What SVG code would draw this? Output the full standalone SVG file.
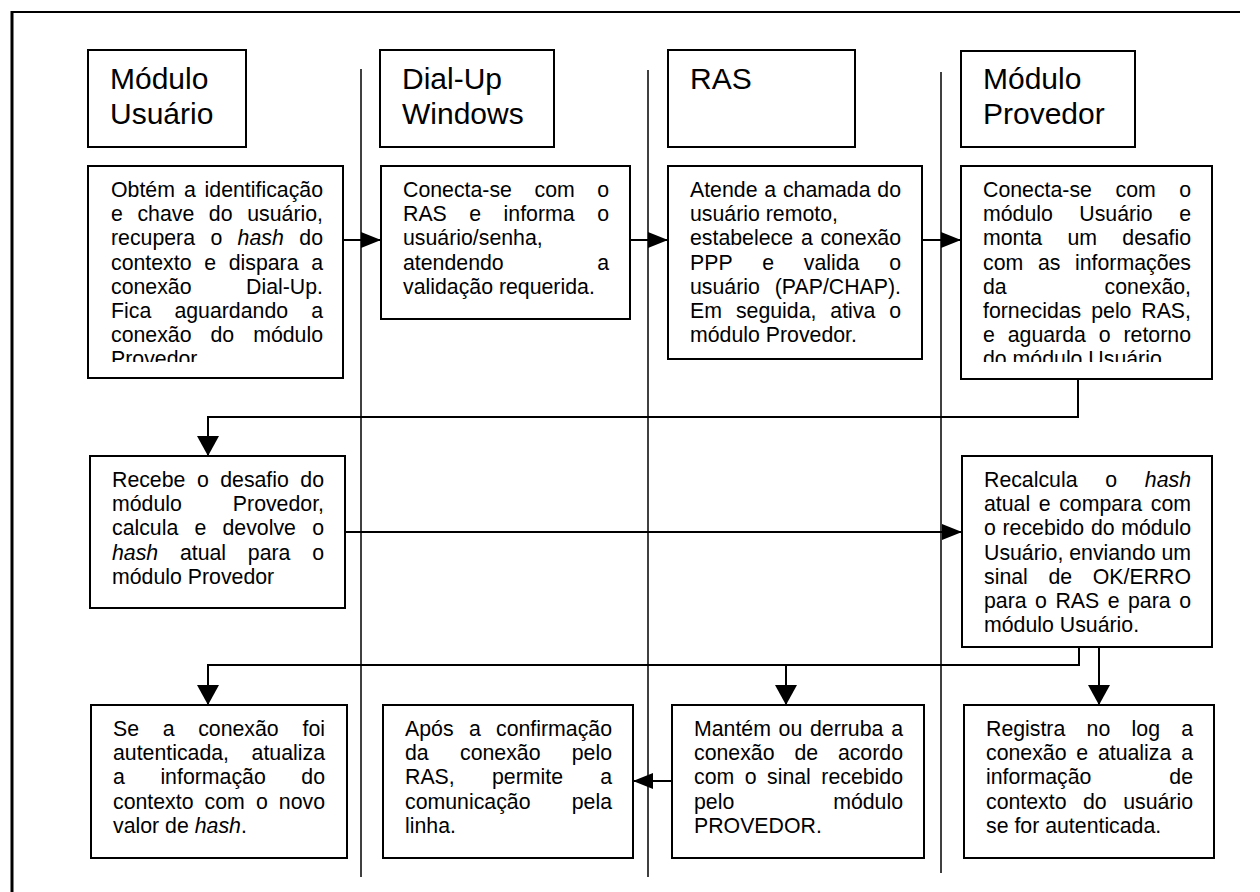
<svg xmlns="http://www.w3.org/2000/svg" width="1260" height="892" viewBox="0 0 1260 892">
<defs>
  <marker id="ah" markerUnits="userSpaceOnUse" markerWidth="20" markerHeight="16" viewBox="0 0 20 16" refX="20" refY="8" orient="auto"><path d="M0,0 L20,8 L0,16 Z" fill="#000"/></marker>
  <marker id="av" markerUnits="userSpaceOnUse" markerWidth="20" markerHeight="22" viewBox="0 0 20 22" refX="20" refY="11" orient="auto"><path d="M0,0 L20,11 L0,22 Z" fill="#000"/></marker>
  <clipPath id="clipU1"><rect x="88" y="166" width="255" height="196"/></clipPath>
  <clipPath id="clipP1"><rect x="961" y="166" width="251" height="196"/></clipPath>
</defs>
<style>
  .frame{fill:none;stroke:#000}
  .box{fill:#fff;stroke:#000;stroke-width:2}
  .lane{stroke:#000;stroke-width:1.5}
  .wire{fill:none;stroke:#000;stroke-width:2}
  text{font-family:"Liberation Sans",Arial,sans-serif;fill:#000}
  .hd{font-size:30px}
  .bd{font-size:21.3px}
  .e{text-anchor:end}
  .i{font-style:italic}
</style>
<rect width="1260" height="892" fill="#fff"/>

<!-- page frame -->
<g id="frame">
  <line class="frame" x1="12" y1="12" x2="1240" y2="12" stroke-width="2"/>
  <line class="frame" x1="12" y1="11" x2="12" y2="892" stroke-width="3"/>
</g>

<!-- swimlane separators -->
<g id="lanes">
  <line class="lane" x1="361" y1="69" x2="361" y2="877"/>
  <line class="lane" x1="648" y1="70" x2="648" y2="877"/>
  <line class="lane" x1="941" y1="72" x2="941" y2="873"/>
</g>

<!-- lane headers -->
<g id="hdr-usuario">
  <rect class="box" x="88" y="50" width="158" height="97"/>
  <text class="hd" x="110" y="89">Módulo</text>
  <text class="hd" x="110" y="124">Usuário</text>
</g>
<g id="hdr-dialup">
  <rect class="box" x="380" y="50" width="174" height="97"/>
  <text class="hd" x="402" y="89">Dial-Up</text>
  <text class="hd" x="402" y="124">Windows</text>
</g>
<g id="hdr-ras">
  <rect class="box" x="668" y="50" width="187" height="97"/>
  <text class="hd" x="690" y="89">RAS</text>
</g>
<g id="hdr-provedor">
  <rect class="box" x="961" y="51" width="174" height="96"/>
  <text class="hd" x="983" y="89">Módulo</text>
  <text class="hd" x="983" y="124">Provedor</text>
</g>

<!-- row 1 -->
<g id="u1">
  <rect class="box" x="88" y="166" width="255" height="212"/>
  <g clip-path="url(#clipU1)">
    <text class="bd" y="197"><tspan x="111">Obtém</tspan><tspan x="183.9">a</tspan><tspan x="323" class="e">identificação</tspan></text>
    <text class="bd" y="221.2"><tspan x="111">e</tspan><tspan x="137.4">chave</tspan><tspan x="208.8">do</tspan><tspan x="323" class="e">usuário,</tspan></text>
    <text class="bd" y="245.4"><tspan x="111">recupera</tspan><tspan x="210.4">o</tspan><tspan x="237.6" class="i">hash</tspan><tspan x="323" class="e">do</tspan></text>
    <text class="bd" y="269.6"><tspan x="111">contexto</tspan><tspan x="204.2">e</tspan><tspan x="228.7">dispara</tspan><tspan x="323" class="e">a</tspan></text>
    <text class="bd" y="293.8"><tspan x="111">conexão</tspan><tspan x="323" class="e">Dial-Up.</tspan></text>
    <text class="bd" y="318"><tspan x="111">Fica</tspan><tspan x="174.4">aguardando</tspan><tspan x="323" class="e">a</tspan></text>
    <text class="bd" y="342.2"><tspan x="111">conexão</tspan><tspan x="210.5">do</tspan><tspan x="323" class="e">módulo</tspan></text>
    <text class="bd" x="111" y="366.4">Provedor</text>
  </g>
</g>
<g id="d1">
  <rect class="box" x="381" y="166" width="249" height="153"/>
  <text class="bd" y="197"><tspan x="403">Conecta-se</tspan><tspan x="534.5">com</tspan><tspan x="609" class="e">o</tspan></text>
  <text class="bd" y="221.2"><tspan x="403">RAS</tspan><tspan x="469.3">e</tspan><tspan x="503.6">informa</tspan><tspan x="609" class="e">o</tspan></text>
  <text class="bd" x="403" y="245.4">usuário/senha,</text>
  <text class="bd" y="269.6"><tspan x="403">atendendo</tspan><tspan x="609" class="e">a</tspan></text>
  <text class="bd" x="403" y="293.8">validação requerida.</text>
</g>
<g id="r1">
  <rect class="box" x="668" y="166" width="254" height="193"/>
  <text class="bd" y="197"><tspan x="690">Atende</tspan><tspan x="764.3">a</tspan><tspan x="782.9">chamada</tspan><tspan x="901" class="e">do</tspan></text>
  <text class="bd" x="690" y="221.2">usuário remoto,</text>
  <text class="bd" y="245.4"><tspan x="690">estabelece</tspan><tspan x="800.9">a</tspan><tspan x="901" class="e">conexão</tspan></text>
  <text class="bd" y="269.6"><tspan x="690">PPP</tspan><tspan x="762.3">e</tspan><tspan x="803.8">valida</tspan><tspan x="901" class="e">o</tspan></text>
  <text class="bd" y="293.8"><tspan x="690">usuário</tspan><tspan x="901" class="e">(PAP/CHAP).</tspan></text>
  <text class="bd" y="318"><tspan x="690">Em</tspan><tspan x="735.9">seguida,</tspan><tspan x="830.3">ativa</tspan><tspan x="901" class="e">o</tspan></text>
  <text class="bd" x="690" y="342.2">módulo Provedor.</text>
</g>
<g id="p1">
  <rect class="box" x="961" y="166" width="251" height="213"/>
  <g clip-path="url(#clipP1)">
    <text class="bd" y="197"><tspan x="983">Conecta-se</tspan><tspan x="1115.5">com</tspan><tspan x="1191" class="e">o</tspan></text>
    <text class="bd" y="221.2"><tspan x="983">módulo</tspan><tspan x="1079.3">Usuário</tspan><tspan x="1191" class="e">e</tspan></text>
    <text class="bd" y="245.4"><tspan x="983">monta</tspan><tspan x="1067.5">um</tspan><tspan x="1191" class="e">desafio</tspan></text>
    <text class="bd" y="269.6"><tspan x="983">com</tspan><tspan x="1037.9">as</tspan><tspan x="1191" class="e">informações</tspan></text>
    <text class="bd" y="293.8"><tspan x="983">da</tspan><tspan x="1191" class="e">conexão,</tspan></text>
    <text class="bd" y="318"><tspan x="983">fornecidas</tspan><tspan x="1091.2">pelo</tspan><tspan x="1191" class="e">RAS,</tspan></text>
    <text class="bd" y="342.2"><tspan x="983">e</tspan><tspan x="1007.7">aguarda</tspan><tspan x="1098.7">o</tspan><tspan x="1191" class="e">retorno</tspan></text>
    <text class="bd" x="983" y="366.4">do módulo Usuário</text>
  </g>
</g>

<!-- row 2 -->
<g id="u2">
  <rect class="box" x="90" y="456" width="255" height="152"/>
  <text class="bd" y="487"><tspan x="112">Recebe</tspan><tspan x="196.9">o</tspan><tspan x="220.2">desafio</tspan><tspan x="324" class="e">do</tspan></text>
  <text class="bd" y="511.2"><tspan x="112">módulo</tspan><tspan x="324" class="e">Provedor,</tspan></text>
  <text class="bd" y="535.4"><tspan x="112">calcula</tspan><tspan x="194.5">e</tspan><tspan x="222.5">devolve</tspan><tspan x="324" class="e">o</tspan></text>
  <text class="bd" y="559.6"><tspan x="112" class="i">hash</tspan><tspan x="179.9">atual</tspan><tspan x="247.8">para</tspan><tspan x="324" class="e">o</tspan></text>
  <text class="bd" x="112" y="583.8">módulo Provedor</text>
</g>
<g id="p2">
  <rect class="box" x="962" y="456" width="250" height="191"/>
  <text class="bd" y="487"><tspan x="984">Recalcula</tspan><tspan x="1105.3">o</tspan><tspan x="1191" class="e i">hash</tspan></text>
  <text class="bd" y="511.2"><tspan x="984">atual</tspan><tspan x="1038.8">e</tspan><tspan x="1059.2">compara</tspan><tspan x="1191" class="e">com</tspan></text>
  <text class="bd" y="535.4"><tspan x="984">o</tspan><tspan x="1002.5">recebido</tspan><tspan x="1090.9">do</tspan><tspan x="1191" class="e">módulo</tspan></text>
  <text class="bd" y="559.6"><tspan x="984">Usuário,</tspan><tspan x="1069.2">enviando</tspan><tspan x="1191" class="e">um</tspan></text>
  <text class="bd" y="583.8"><tspan x="984">sinal</tspan><tspan x="1048.5">de</tspan><tspan x="1191" class="e">OK/ERRO</tspan></text>
  <text class="bd" y="608"><tspan x="984">para</tspan><tspan x="1035.1">o</tspan><tspan x="1055.4">RAS</tspan><tspan x="1107.7">e</tspan><tspan x="1128">para</tspan><tspan x="1191" class="e">o</tspan></text>
  <text class="bd" x="984" y="632.2">módulo Usuário.</text>
</g>

<!-- row 3 -->
<g id="u3">
  <rect class="box" x="91" y="705" width="256" height="153"/>
  <text class="bd" y="736"><tspan x="113">Se</tspan><tspan x="162.7">a</tspan><tspan x="198.2">conexão</tspan><tspan x="325" class="e">foi</tspan></text>
  <text class="bd" y="760.2"><tspan x="113">autenticada,</tspan><tspan x="325" class="e">atualiza</tspan></text>
  <text class="bd" y="784.4"><tspan x="113">a</tspan><tspan x="160.4">informação</tspan><tspan x="325" class="e">do</tspan></text>
  <text class="bd" y="808.6"><tspan x="113">contexto</tspan><tspan x="204.6">com</tspan><tspan x="255.9">o</tspan><tspan x="325" class="e">novo</tspan></text>
  <text class="bd" x="113" y="832.8">valor de <tspan class="i">hash</tspan>.</text>
</g>
<g id="d3">
  <rect class="box" x="383" y="705" width="250" height="153"/>
  <text class="bd" y="736"><tspan x="405">Após</tspan><tspan x="468.9">a</tspan><tspan x="612" class="e">confirmação</tspan></text>
  <text class="bd" y="760.2"><tspan x="405">da</tspan><tspan x="460">conexão</tspan><tspan x="612" class="e">pelo</tspan></text>
  <text class="bd" y="784.4"><tspan x="405">RAS,</tspan><tspan x="492">permite</tspan><tspan x="612" class="e">a</tspan></text>
  <text class="bd" y="808.6"><tspan x="405">comunicação</tspan><tspan x="612" class="e">pela</tspan></text>
  <text class="bd" x="405" y="832.8">linha.</text>
</g>
<g id="r3">
  <rect class="box" x="672" y="705" width="252" height="153"/>
  <text class="bd" y="736"><tspan x="694">Mantém</tspan><tspan x="778.6">ou</tspan><tspan x="810">derruba</tspan><tspan x="903" class="e">a</tspan></text>
  <text class="bd" y="760.2"><tspan x="694">conexão</tspan><tspan x="794.4">de</tspan><tspan x="903" class="e">acordo</tspan></text>
  <text class="bd" y="784.4"><tspan x="694">com</tspan><tspan x="744.7">o</tspan><tspan x="767">sinal</tspan><tspan x="903" class="e">recebido</tspan></text>
  <text class="bd" y="808.6"><tspan x="694">pelo</tspan><tspan x="903" class="e">módulo</tspan></text>
  <text class="bd" x="694" y="832.8">PROVEDOR.</text>
</g>
<g id="p3">
  <rect class="box" x="964" y="705" width="250" height="153"/>
  <text class="bd" y="736"><tspan x="986">Registra</tspan><tspan x="1086.6">no</tspan><tspan x="1131.6">log</tspan><tspan x="1193" class="e">a</tspan></text>
  <text class="bd" y="760.2"><tspan x="986">conexão</tspan><tspan x="1076.3">e</tspan><tspan x="1097.9">atualiza</tspan><tspan x="1193" class="e">a</tspan></text>
  <text class="bd" y="784.4"><tspan x="986">informação</tspan><tspan x="1193" class="e">de</tspan></text>
  <text class="bd" y="808.6"><tspan x="986">contexto</tspan><tspan x="1083">do</tspan><tspan x="1193" class="e">usuário</tspan></text>
  <text class="bd" x="986" y="832.8">se for autenticada.</text>
</g>

<!-- connectors -->
<g id="connectors">
  <line class="wire" x1="343" y1="240" x2="381" y2="240" marker-end="url(#ah)"/>
  <line class="wire" x1="630" y1="240" x2="668" y2="240" marker-end="url(#ah)"/>
  <line class="wire" x1="922" y1="240" x2="961" y2="240" marker-end="url(#ah)"/>
  <polyline class="wire" points="1078,379 1078,417 208,417 208,456" marker-end="url(#av)"/>
  <line class="wire" x1="345" y1="532" x2="962" y2="532" marker-end="url(#ah)"/>
  <polyline class="wire" points="1079,647 1079,665 208,665 208,705" marker-end="url(#av)"/>
  <line class="wire" x1="786" y1="665" x2="786" y2="705" marker-end="url(#av)"/>
  <line class="wire" x1="1099" y1="647" x2="1099" y2="705" marker-end="url(#av)"/>
  <line class="wire" x1="672" y1="781" x2="633" y2="781" marker-end="url(#ah)"/>
</g>
</svg>
